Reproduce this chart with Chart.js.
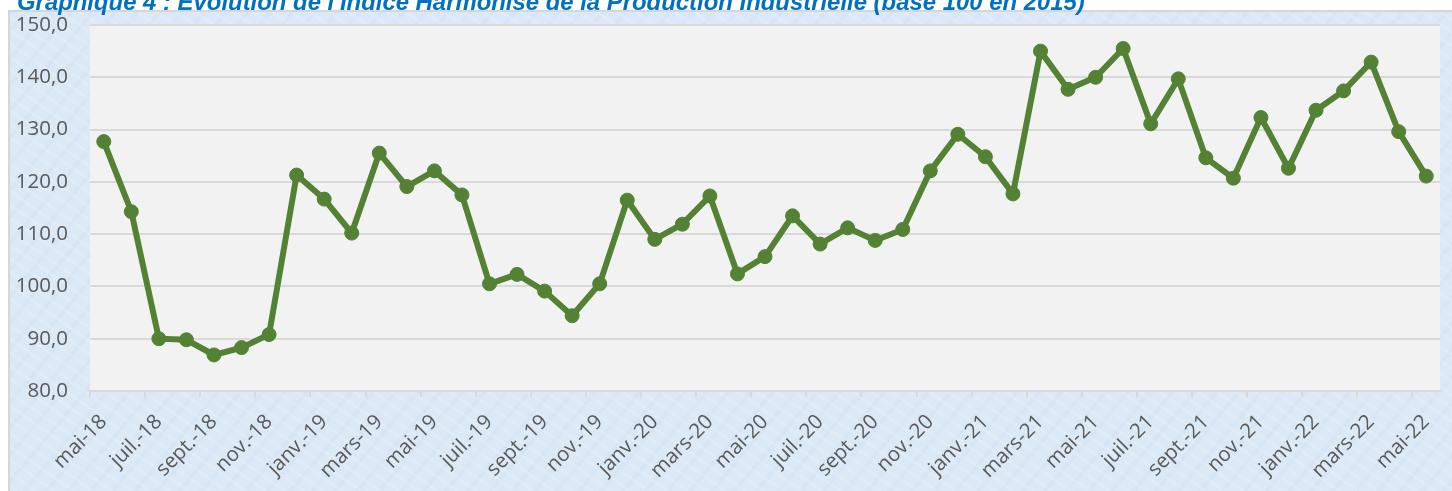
<!DOCTYPE html>
<html><head><meta charset="utf-8">
<script src="https://cdn.jsdelivr.net/npm/chart.js@4.4.0/dist/chart.umd.min.js"></script>
<style>
html,body{margin:0;padding:0;background:#fff;overflow:hidden;width:1452px;height:491px;}
#box{position:absolute;left:8px;top:10px;width:1450px;height:490px;border-left:2px solid #d4d6d9;border-top:2px solid #d4d6d9;
background-color:#dbe8f6;
background-image:
 repeating-linear-gradient(35deg, rgba(255,255,255,0.14) 0px, rgba(255,255,255,0.14) 3px, rgba(255,255,255,0) 3px, rgba(255,255,255,0) 11px),
 repeating-linear-gradient(-50deg, rgba(190,210,235,0.16) 0px, rgba(190,210,235,0.16) 4px, rgba(255,255,255,0) 4px, rgba(255,255,255,0) 17px);}
#wrap{position:absolute;left:0;top:-12px;width:1452px;height:503px;}
</style></head><body>
<div id="box"></div>
<div id="wrap"><canvas id="c" width="1452" height="503"></canvas></div>
<script>
const titleText = "Graphique 4 : Évolution de l'Indice Harmonisé de la Production Industrielle (base 100 en 2015)";
const categories = [
 "mai-18","juin-18","juil.-18","août-18","sept.-18","oct.-18","nov.-18","déc.-18",
 "janv.-19","févr.-19","mars-19","avr.-19","mai-19","juin-19","juil.-19","août-19","sept.-19","oct.-19","nov.-19","déc.-19",
 "janv.-20","févr.-20","mars-20","avr.-20","mai-20","juin-20","juil.-20","août-20","sept.-20","oct.-20","nov.-20","déc.-20",
 "janv.-21","févr.-21","mars-21","avr.-21","mai-21","juin-21","juil.-21","août-21","sept.-21","oct.-21","nov.-21","déc.-21",
 "janv.-22","févr.-22","mars-22","avr.-22","mai-22"
];
const ihpi = [
 127.7,114.3,90.0,89.8,86.9,88.3,90.8,121.3,
 116.7,110.2,125.5,119.1,122.1,117.5,100.5,102.3,99.1,94.4,100.5,116.5,
 109.0,111.9,117.3,102.4,105.7,113.5,108.1,111.2,108.8,110.9,122.1,129.1,
 124.8,117.7,145.0,137.7,140.0,145.5,131.1,139.7,124.6,120.7,132.3,122.6,
 133.7,137.4,142.9,129.6,121.1
];
const shownTickLabels = [
 "mai-18","juil.-18","sept.-18","nov.-18","janv.-19","mars-19","mai-19","juil.-19","sept.-19","nov.-19",
 "janv.-20","mars-20","mai-20","juil.-20","sept.-20","nov.-20","janv.-21","mars-21","mai-21","juil.-21",
 "sept.-21","nov.-21","janv.-22","mars-22","mai-22"
];
const yMin = 80, yMax = 150, yStep = 10;

const mc = document.createElement('canvas').getContext('2d');
mc.font = "italic bold 100px 'Liberation Sans', Arial, sans-serif";
const titleSize = Math.round(100 * 1070 / mc.measureText(titleText).width * 10) / 10;
const titleLH = 1.2;
const titlePadTop = 1.5;
const titlePadBottom = 37 - titlePadTop - titleSize * titleLH;

const plotBg = {
  id: 'plotBg',
  beforeDraw(chart) {
    const {ctx, chartArea: a} = chart;
    ctx.save();
    ctx.fillStyle = '#f2f2f2';
    ctx.fillRect(a.left, a.top, a.right - a.left, a.bottom - a.top);
    ctx.restore();
  }
};

new Chart(document.getElementById('c'), {
  type: 'line',
  data: {
    labels: categories,
    datasets: [{
      data: ihpi,
      borderColor: '#548235',
      backgroundColor: '#548235',
      borderWidth: 6,
      pointRadius: 7,
      pointBorderWidth: 1,
      pointBackgroundColor: '#548235',
      pointBorderColor: '#548235',
      tension: 0,
      fill: false
    }]
  },
  options: {
    responsive: false,
    animation: false,
    devicePixelRatio: 1,
    layout: { padding: { left: 17, right: 12, top: 0, bottom: 0 } },
    plugins: {
      legend: { display: false },
      tooltip: { enabled: false },
      title: {
        display: true,
        text: titleText,
        align: 'start',
        color: '#0070c0',
        font: { family: "'Liberation Sans', Arial, sans-serif", size: titleSize, weight: 'bold', style: 'italic', lineHeight: titleLH },
        padding: { top: titlePadTop, bottom: titlePadBottom }
      }
    },
    scales: {
      x: {
        offset: true,
        grid: {
          offset: true,
          drawOnChartArea: false,
          drawTicks: true,
          tickLength: 6,
          lineWidth: 2,
          color: (c) => (c.index % 2 === 0 ? '#d9d9d9' : 'rgba(0,0,0,0)')
        },
        border: { display: true, color: '#d9d9d9', width: 2 },
        ticks: {
          autoSkip: false,
          minRotation: 45,
          maxRotation: 45,
          padding: 13,
          color: '#595959',
          font: { family: "'Open Sans', sans-serif", size: 20.5 },
          callback: function (v, i) { return shownTickLabels.includes(categories[i]) ? categories[i] : ''; }
        },
        afterFit: (s) => { s.height = 100; s.paddingLeft = 0; s.paddingRight = 0; }
      },
      y: {
        min: yMin,
        max: yMax,
        ticks: {
          stepSize: yStep,
          padding: 22,
          color: '#595959',
          font: { family: "'Open Sans', sans-serif", size: 20.5 },
          callback: (v) => v.toFixed(1).replace('.', ',')
        },
        grid: { color: '#d9d9d9', lineWidth: 2, drawTicks: false },
        border: { display: false },
        afterFit: (s) => { s.width = 73; }
      }
    }
  },
  plugins: [plotBg]
});
</script>
</body></html>
